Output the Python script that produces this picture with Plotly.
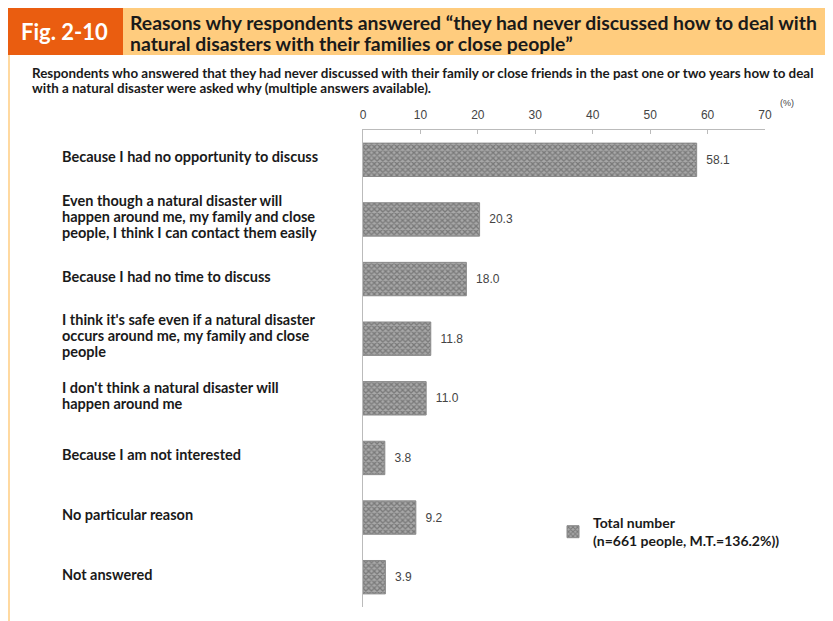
import plotly.graph_objects as go

categories = [
    "Because I had no opportunity to discuss",
    "Even though a natural disaster will<br>happen around me, my family and close<br>people, I think I can contact them easily",
    "Because I had no time to discuss",
    "I think it's safe even if a natural disaster<br>occurs around me, my family and close<br>people",
    "I don't think a natural disaster will<br>happen around me",
    "Because I am not interested",
    "No particular reason",
    "Not answered",
]
values = [58.1, 20.3, 18.0, 11.8, 11.0, 3.8, 9.2, 3.9]
tick_vals = [0, 10, 20, 30, 40, 50, 60, 70]
series_name = "<b>Total number</b><br><b>(n=661 people, M.T.=136.2%))</b>"
title_lines = [
    "Reasons why respondents answered “they had never discussed how to deal with",
    "natural disasters with their families or close people”",
]
subtitle_lines = [
    "Respondents who answered that they had never discussed with their family or close friends in the past one or two years how to deal",
    "with a natural disaster were asked why (multiple answers available).",
]

OFF = 8  # page body margin
W, H = 833 - OFF, 621 - OFF
L, R, T, B = 363, 765, 130, 607  # plot area in reference pixels


def px(x):
    return (x - L) / (R - L)


def py(y):
    return (B - y) / (B - T)


FONT = "Lato"
DARK = "#1a1a1a"
fig = go.Figure()
fig.add_trace(go.Bar(
    y=list(range(len(categories))), x=values, orientation="h",
    name=series_name, width=0.56,
    marker=dict(color="#9c9c9c", line=dict(color="#8a8a8a", width=1),
                pattern=dict(shape="x", size=4, solidity=0.55, fgcolor="#4a4a4a", bgcolor="#a8a8a8")),
    text=[f"{v:.1f}" for v in values], textposition="outside",
    texttemplate="  %{text}",
    textfont=dict(family="Liberation Sans", size=12, color="#444"),
    cliponaxis=False, showlegend=True,
))

annotations = []
LINE = 16
for i, c in enumerate(categories):
    lines = c.split("<br>")
    n = len(lines)
    for j, ln in enumerate(lines):
        annotations.append(dict(
            x=px(60), xref="paper", y=i, yref="y", text=f"<b>{ln}</b>", showarrow=False,
            xanchor="left", align="left", yanchor="middle",
            yshift=3 + ((n - 1) / 2 - j) * LINE,
            font=dict(family=FONT, size=14.5, color=DARK),
        ))
annotations.append(dict(
    x=px(64), y=py(32), xref="paper", yref="paper", text="<b>Fig. 2-10</b>", showarrow=False,
    xanchor="center", yanchor="middle", font=dict(family=FONT, size=22, color="white")))
for j, ln in enumerate(title_lines):
    annotations.append(dict(
        x=px(128), y=py(22.5 + 21 * j), xref="paper", yref="paper", text=f"<b>{ln}</b>",
        showarrow=False, xanchor="left", yanchor="middle",
        font=dict(family=FONT, size=19.4, color=DARK)))
for j, ln in enumerate(subtitle_lines):
    annotations.append(dict(
        x=px(30), y=py(73 + 15 * j), xref="paper", yref="paper", text=f"<b>{ln}</b>",
        showarrow=False, xanchor="left", yanchor="middle",
        font=dict(family=FONT, size=13.4, color=DARK)))
annotations.append(dict(
    x=px(787), y=py(103), xref="paper", yref="paper", text="(%)", showarrow=False,
    xanchor="center", yanchor="middle", font=dict(family="Liberation Sans", size=9, color="#444")))

shapes = [
    dict(type="rect", xref="paper", yref="paper", x0=px(6), x1=px(123), y0=py(8), y1=py(55),
         fillcolor="#EA5D10", line=dict(width=0), layer="below"),
    dict(type="rect", xref="paper", yref="paper", x0=px(123), x1=px(840), y0=py(8), y1=py(55),
         fillcolor="#FFCC7E", line=dict(width=0), layer="below"),
    dict(type="rect", xref="paper", yref="paper", x0=px(7), x1=px(10), y0=py(55), y1=py(630),
         fillcolor="#FFD9A0", line=dict(width=0), layer="below"),
]

fig.update_layout(
    width=W, height=H, autosize=False,
    margin=dict(l=L - OFF, r=W - (R - OFF), t=T - OFF, b=H - (B - OFF), pad=0),
    paper_bgcolor="white", plot_bgcolor="white",
    xaxis=dict(range=[0, 70], side="top", tickvals=tick_vals, showgrid=False, zeroline=False,
               showline=True, linecolor="#bbbbbb", linewidth=1, ticks="inside", ticklen=4,
               tickcolor="#bbbbbb", tickfont=dict(family="Liberation Sans", size=12, color="#444"),
               ticklabelstandoff=5, fixedrange=True),
    yaxis=dict(range=[len(categories) - 0.5, -0.5], showticklabels=False, showgrid=False,
               zeroline=False, showline=True, linecolor="#bbbbbb", linewidth=1, ticks="", fixedrange=True),
    legend=dict(x=px(553), y=py(507), xanchor="left", yanchor="top", bgcolor="rgba(0,0,0,0)",
                font=dict(family=FONT, size=14, color=DARK), itemwidth=30,
                tracegroupgap=0),
    annotations=annotations, shapes=shapes, showlegend=True,
    font=dict(family=FONT),
)

fig.write_html("out.html")
